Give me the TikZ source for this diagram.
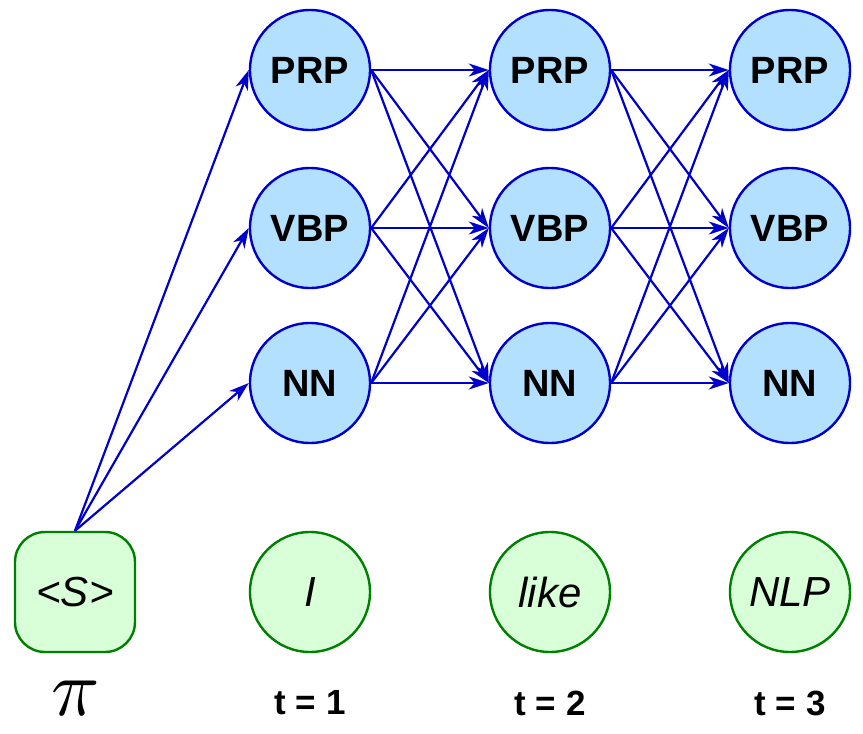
\documentclass[tikz,border=0pt]{standalone}
\usepackage{fontspec}
\setmainfont{Liberation Sans}
\usetikzlibrary{arrows.meta}
\definecolor{edgeblue}{RGB}{0,0,204}
\definecolor{tagfill}{RGB}{179,224,255}
\definecolor{wordgreen}{RGB}{0,128,0}
\definecolor{wordfill}{RGB}{217,255,217}

\begin{document}
\begin{tikzpicture}[x=0.5pt, y=-0.5pt,
    tag/.style={circle, draw=edgeblue, fill=tagfill, line width=1.2pt, minimum size=60pt, inner sep=0pt, font=\fontsize{19}{22}\selectfont\bfseries},
    word/.style={circle, draw=wordgreen, fill=wordfill, line width=1.2pt, minimum size=60pt, inner sep=0pt, font=\fontsize{21}{24}\selectfont\itshape},
    startbox/.style={rectangle, rounded corners=15pt, draw=wordgreen, fill=wordfill, line width=1.2pt, minimum size=60pt, inner sep=0pt, font=\fontsize{21}{24}\selectfont\itshape},
    tlabel/.style={font=\fontsize{17.5}{20}\selectfont\bfseries},
    trans/.style={draw=edgeblue, line width=1.1pt, -{Stealth[length=10pt, width=6.5pt, inset=3pt]}}]
    \useasboundingbox (0,0) rectangle (863,734);
    % hidden states
    \node[tag] (prp1) at (310,70) {PRP};
    \node[tag] (vbp1) at (310,228) {VBP};
    \node[tag] (nn1) at (310,383) {NN};
    \node[tag] (prp2) at (550,70) {PRP};
    \node[tag] (vbp2) at (550,228) {VBP};
    \node[tag] (nn2) at (550,383) {NN};
    \node[tag] (prp3) at (790,70) {PRP};
    \node[tag] (vbp3) at (790,228) {VBP};
    \node[tag] (nn3) at (790,383) {NN};
    % observations
    \node[startbox] (start) at (75,592) {<S>};
    \node[word] (w1) at (310,592) {I};
    \node[word] (w2) at (550,592) {like};
    \node[word] (w3) at (790,592) {NLP};
    % labels
    \node[scale=4] (pi) at (76,698) {$\pi$};
    \node[tlabel] (t1) at (310,703) {t = 1};
    \node[tlabel] (t2) at (550,703) {t = 2};
    \node[tlabel] (t3) at (790,703) {t = 3};
    % transitions
    \foreach \b in {prp,vbp,nn}
        \draw[trans] (start.north) -- (\b1.west);
    \foreach \i/\j in {1/2,2/3}
        \foreach \a in {prp,vbp,nn}
            \foreach \b in {prp,vbp,nn}
                \draw[trans] (\a\i.east) -- (\b\j.west);
\end{tikzpicture}
\end{document}
